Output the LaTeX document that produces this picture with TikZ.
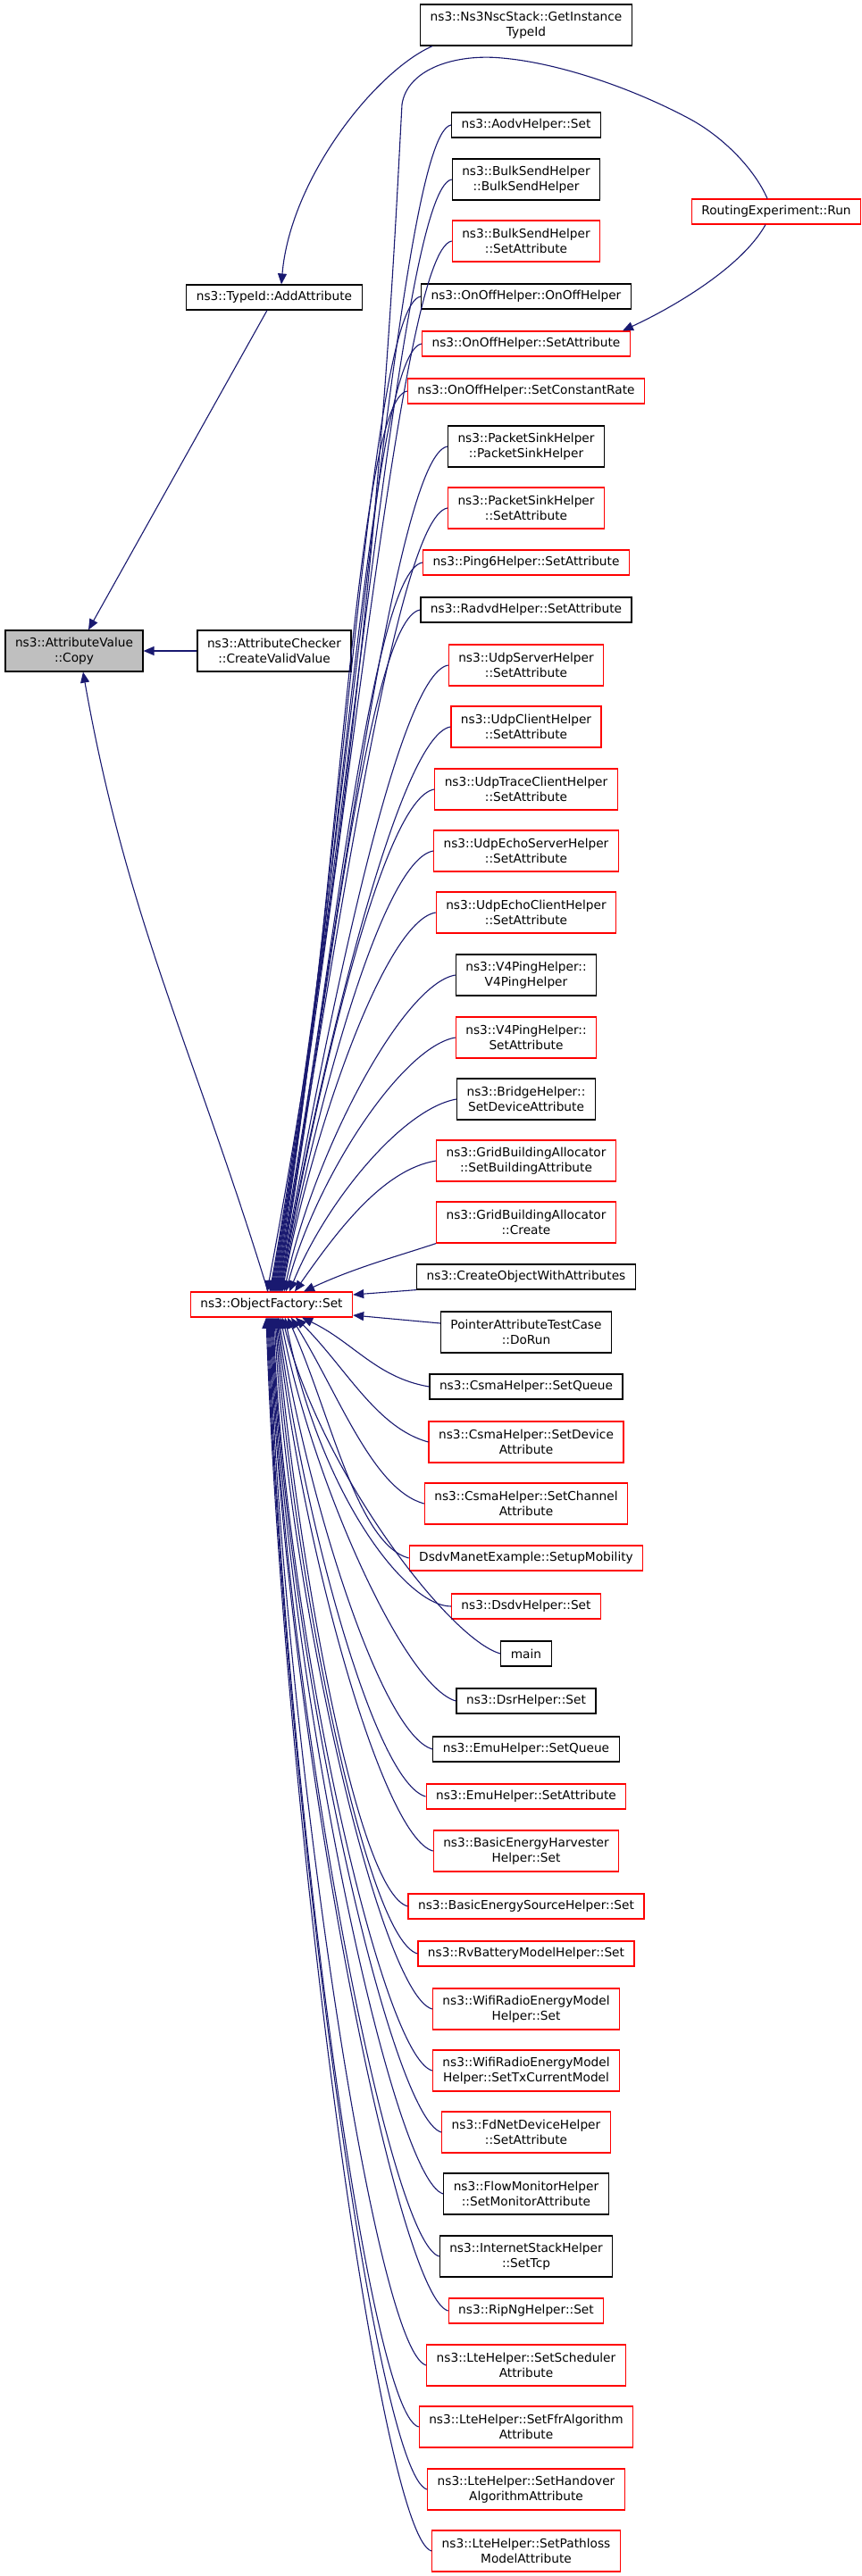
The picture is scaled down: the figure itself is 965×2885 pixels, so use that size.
\documentclass[tikz,border=0pt]{standalone}
\usepackage{fontspec}
\setmainfont{DejaVu Sans}
\usepackage{tikz}
\usetikzlibrary{arrows.meta}
\definecolor{edgeblue}{HTML}{191970}
\definecolor{truncred}{HTML}{FF0000}
\definecolor{selgray}{HTML}{BFBFBF}

\begin{document}
\begin{tikzpicture}[
    x=1pt, y=-1pt,
    >={Triangle[length=12pt,width=10pt]},
    fn/.style={draw=black, line width=1.2pt, font=\fontsize{13.7}{17}\selectfont,
        align=center, inner xsep=11pt, inner ysep=0pt, minimum height=28pt},
    trunc/.style={fn, draw=truncred},
    twoline/.style={minimum height=46pt},
    call/.style={<-, draw=edgeblue, line width=1.1pt}
]
\useasboundingbox (0,0) rectangle (965,2885);
\node[fn, twoline, fill=selgray] at ( 83, 729) (copy) {ns3::AttributeValue\\::Copy};
\node[fn, twoline] at (307, 729) (cvv) {ns3::AttributeChecker\\::CreateValidValue};
\node[fn] at (307, 333) (addattr) {ns3::TypeId::AddAttribute};
\node[trunc] at (304,1461) (of) {ns3::ObjectFactory::Set};
\node[trunc] at (869, 237) (re) {RoutingExperiment::Run};
\node[fn, twoline] at (589,  28) (nsc) {ns3::Ns3NscStack::GetInstance\\TypeId};
\node[fn] at (589, 140) (aodv) {ns3::AodvHelper::Set};
\node[fn, twoline] at (589, 201) (bulk) {ns3::BulkSendHelper\\::BulkSendHelper};
\node[trunc, twoline] at (589, 270) (bulkset) {ns3::BulkSendHelper\\::SetAttribute};
\node[fn] at (589, 332) (onoff) {ns3::OnOffHelper::OnOffHelper};
\node[trunc] at (589, 385) (onoffset) {ns3::OnOffHelper::SetAttribute};
\node[trunc] at (589, 438) (onoffrate) {ns3::OnOffHelper::SetConstantRate};
\node[fn, twoline] at (589, 500) (sink) {ns3::PacketSinkHelper\\::PacketSinkHelper};
\node[trunc, twoline] at (589, 569) (sinkset) {ns3::PacketSinkHelper\\::SetAttribute};
\node[trunc] at (589, 630) (ping6) {ns3::Ping6Helper::SetAttribute};
\node[fn] at (589, 683) (radvd) {ns3::RadvdHelper::SetAttribute};
\node[trunc, twoline] at (589, 745) (udpserver) {ns3::UdpServerHelper\\::SetAttribute};
\node[trunc, twoline] at (589, 814) (udpclient) {ns3::UdpClientHelper\\::SetAttribute};
\node[trunc, twoline] at (589, 884) (udptrace) {ns3::UdpTraceClientHelper\\::SetAttribute};
\node[trunc, twoline] at (589, 953) (echoserver) {ns3::UdpEchoServerHelper\\::SetAttribute};
\node[trunc, twoline] at (589,1022) (echoclient) {ns3::UdpEchoClientHelper\\::SetAttribute};
\node[fn, twoline] at (589,1092) (v4ping) {ns3::V4PingHelper::\\V4PingHelper};
\node[trunc, twoline] at (589,1162) (v4pingset) {ns3::V4PingHelper::\\SetAttribute};
\node[fn, twoline] at (589,1231) (bridge) {ns3::BridgeHelper::\\SetDeviceAttribute};
\node[trunc, twoline] at (589,1300) (gridset) {ns3::GridBuildingAllocator\\::SetBuildingAttribute};
\node[trunc, twoline] at (589,1369) (gridcreate) {ns3::GridBuildingAllocator\\::Create};
\node[fn] at (589,1430) (createobj) {ns3::CreateObjectWithAttributes};
\node[fn, twoline] at (589,1492) (pointer) {PointerAttributeTestCase\\::DoRun};
\node[fn] at (589,1553) (csmaqueue) {ns3::CsmaHelper::SetQueue};
\node[trunc, twoline] at (589,1615) (csmadev) {ns3::CsmaHelper::SetDevice\\Attribute};
\node[trunc, twoline] at (589,1684) (csmachan) {ns3::CsmaHelper::SetChannel\\Attribute};
\node[trunc] at (589,1745) (dsdvmanet) {DsdvManetExample::SetupMobility};
\node[trunc] at (589,1799) (dsdvset) {ns3::DsdvHelper::Set};
\node[fn] at (589,1852) (main) {main};
\node[fn] at (589,1905) (dsr) {ns3::DsrHelper::Set};
\node[fn] at (589,1959) (emuqueue) {ns3::EmuHelper::SetQueue};
\node[trunc] at (589,2012) (emuattr) {ns3::EmuHelper::SetAttribute};
\node[trunc, twoline] at (589,2073) (harvester) {ns3::BasicEnergyHarvester\\Helper::Set};
\node[trunc] at (589,2135) (source) {ns3::BasicEnergySourceHelper::Set};
\node[trunc] at (589,2188) (battery) {ns3::RvBatteryModelHelper::Set};
\node[trunc, twoline] at (589,2250) (wifi) {ns3::WifiRadioEnergyModel\\Helper::Set};
\node[trunc, twoline] at (589,2319) (wifitx) {ns3::WifiRadioEnergyModel\\Helper::SetTxCurrentModel};
\node[trunc, twoline] at (589,2388) (fdnet) {ns3::FdNetDeviceHelper\\::SetAttribute};
\node[fn, twoline] at (589,2457) (flow) {ns3::FlowMonitorHelper\\::SetMonitorAttribute};
\node[fn, twoline] at (589,2527) (internet) {ns3::InternetStackHelper\\::SetTcp};
\node[trunc] at (589,2588) (ripng) {ns3::RipNgHelper::Set};
\node[trunc, twoline] at (589,2649) (ltesched) {ns3::LteHelper::SetScheduler\\Attribute};
\node[trunc, twoline] at (589,2718) (lteffr) {ns3::LteHelper::SetFfrAlgorithm\\Attribute};
\node[trunc, twoline] at (589,2788) (ltehand) {ns3::LteHelper::SetHandover\\AlgorithmAttribute};
\node[trunc, twoline] at (589,2857) (ltepath) {ns3::LteHelper::SetPathloss\\ModelAttribute};
\draw [call] ([xshift=16pt]copy.north) -- ([xshift=-8pt]addattr.south);
\draw [call] (copy.east) -- (cvv.west);
\draw [call] ([xshift=10pt]copy.south) to[out=-80, in=107] ([xshift=-4pt]of.north);
\draw [call] ([xshift=8pt]addattr.north) .. controls (325,200) and (420,80) .. ([xshift=14pt]nsc.south west);
\draw [call] ([xshift=-9pt]onoffset.north east) .. controls (752,345) and (830,300) .. ([xshift=-12pt]re.south);
\draw [call] ([xshift=-5pt]of.north) .. controls (420,800) and (440,300) .. (450,117)
    .. controls (456,77) and (510,60) .. (562,65) .. controls (620,70) and (700,95) .. (770,132)
    .. controls (810,153) and (845,190) .. ([xshift=-10pt]re.north);
\draw [call] ([xshift=-2pt]of.north) .. controls +(91,-503) and ([shift={(-59,10)}]aodv.west) .. (aodv.west);
\draw [call] ([xshift=-1pt]of.north) .. controls +(87,-480) and ([shift={(-59,10)}]bulk.west) .. (bulk.west);
\draw [call] ([xshift=0pt]of.north) .. controls +(82,-453) and ([shift={(-59,10)}]bulkset.west) .. (bulkset.west);
\draw [call] ([xshift=1pt]of.north) .. controls +(78,-429) and ([shift={(-59,10)}]onoff.west) .. (onoff.west);
\draw [call] ([xshift=2pt]of.north) .. controls +(74,-409) and ([shift={(-59,10)}]onoffset.west) .. (onoffset.west);
\draw [call] ([xshift=3pt]of.north) .. controls +(71,-388) and ([shift={(-59,10)}]onoffrate.west) .. (onoffrate.west);
\draw [call] ([xshift=4pt]of.north) .. controls +(66,-365) and ([shift={(-59,10)}]sink.west) .. (sink.west);
\draw [call] ([xshift=5pt]of.north) .. controls +(61,-338) and ([shift={(-59,10)}]sinkset.west) .. (sinkset.west);
\draw [call] ([xshift=6pt]of.north) .. controls +(57,-315) and ([shift={(-59,10)}]ping6.west) .. (ping6.west);
\draw [call] ([xshift=7pt]of.north) .. controls +(53,-294) and ([shift={(-59,10)}]radvd.west) .. (radvd.west);
\draw [call] ([xshift=8pt]of.north) .. controls +(49,-270) and ([shift={(-59,10)}]udpserver.west) .. (udpserver.west);
\draw [call] ([xshift=9pt]of.north) .. controls +(44,-244) and ([shift={(-59,10)}]udpclient.west) .. (udpclient.west);
\draw [call] ([xshift=10pt]of.north) .. controls +(39,-217) and ([shift={(-59,10)}]udptrace.west) .. (udptrace.west);
\draw [call] ([xshift=11pt]of.north) .. controls +(35,-190) and ([shift={(-59,10)}]echoserver.west) .. (echoserver.west);
\draw [call] ([xshift=12pt]of.north) .. controls +(30,-164) and ([shift={(-59,10)}]echoclient.west) .. (echoclient.west);
\draw [call] ([xshift=14pt]of.north) .. controls +(33,-155) and ([shift={(-59,10)}]v4ping.west) .. (v4ping.west);
\draw [call] ([xshift=16pt]of.north) .. controls +(35,-130) and ([shift={(-59,10)}]v4pingset.west) .. (v4pingset.west);
\draw [call] ([xshift=20pt]of.north) .. controls +(42,-103) and ([shift={(-59,10)}]bridge.west) .. (bridge.west);
\draw [call] ([xshift=26pt]of.north) .. controls +(49,-70) and ([shift={(-59,10)}]gridset.west) .. (gridset.west);
\draw [call] ([xshift=36pt]of.north) .. controls +(58,-27) and ([shift={(-45,15)}]gridcreate.south west) .. (gridcreate.south west);
\draw [call] ([yshift=11pt]of.east) -- (createobj.south west);
\draw [call] ([yshift=-12pt]of.east) -- ([yshift=10pt]pointer.west);
\draw [call] ([xshift=34pt]of.south) .. controls +(57,27) and ([shift={(-59,-10)}]csmaqueue.west) .. (csmaqueue.west);
\draw [call] ([xshift=27pt]of.south) .. controls +(57,57) and ([shift={(-58,-16)}]csmadev.west) .. (csmadev.west);
\draw [call] ([xshift=22pt]of.south) .. controls +(53,85) and ([shift={(-58,-16)}]csmachan.west) .. (csmachan.west);
\draw [call] ([xshift=18pt]of.south) .. controls +(48,108) and ([shift={(-58,-16)}]dsdvmanet.west) .. (dsdvmanet.west);
\draw [call] ([xshift=15pt]of.south) .. controls +(40,200) and ([shift={(-50,0)}]dsdvset.west) .. (dsdvset.west);
\draw [call] ([xshift=12pt]of.south) .. controls +(42,170) and ([shift={(-58,-16)}]main.west) .. (main.west);
\draw [call] ([xshift=10pt]of.south) .. controls +(35,181) and ([shift={(-58,-16)}]dsr.west) .. (dsr.west);
\draw [call] ([xshift=8pt]of.south) .. controls +(31,198) and ([shift={(-58,-16)}]emuqueue.west) .. (emuqueue.west);
\draw [call] ([xshift=7pt]of.south) .. controls +(27,217) and ([shift={(-58,-16)}]emuattr.west) .. (emuattr.west);
\draw [call] ([xshift=6pt]of.south) .. controls +(25,242) and ([shift={(-58,-16)}]harvester.west) .. (harvester.west);
\draw [call] ([xshift=5pt]of.south) .. controls +(23,263) and ([shift={(-58,-16)}]source.west) .. (source.west);
\draw [call] ([xshift=4pt]of.south) .. controls +(20,284) and ([shift={(-58,-16)}]battery.west) .. (battery.west);
\draw [call] ([xshift=3pt]of.south) .. controls +(16,310) and ([shift={(-58,-16)}]wifi.west) .. (wifi.west);
\draw [call] ([xshift=2pt]of.south) .. controls +(12,336) and ([shift={(-58,-16)}]wifitx.west) .. (wifitx.west);
\draw [call] ([xshift=1pt]of.south) .. controls +(13,364) and ([shift={(-58,-16)}]fdnet.west) .. (fdnet.west);
\draw [call] ([xshift=0pt]of.south) .. controls +(14,390) and ([shift={(-58,-16)}]flow.west) .. (flow.west);
\draw [call] ([xshift=-1pt]of.south) .. controls +(15,417) and ([shift={(-58,-16)}]internet.west) .. (internet.west);
\draw [call] ([xshift=-2pt]of.south) .. controls +(15,441) and ([shift={(-58,-16)}]ripng.west) .. (ripng.west);
\draw [call] ([xshift=-3pt]of.south) .. controls +(16,463) and ([shift={(-58,-16)}]ltesched.west) .. (ltesched.west);
\draw [call] ([xshift=-4pt]of.south) .. controls +(17,489) and ([shift={(-58,-16)}]lteffr.west) .. (lteffr.west);
\draw [call] ([xshift=-5pt]of.south) .. controls +(18,517) and ([shift={(-58,-16)}]ltehand.west) .. (ltehand.west);
\draw [call] ([xshift=-6pt]of.south) .. controls +(19,544) and ([shift={(-58,-16)}]ltepath.west) .. (ltepath.west);
\end{tikzpicture}
\end{document}
